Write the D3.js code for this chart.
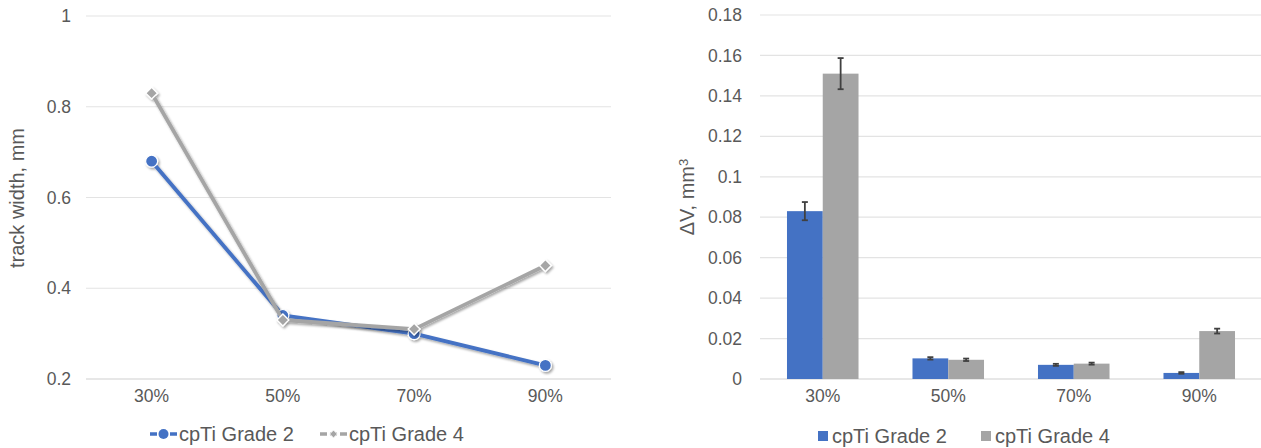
<!DOCTYPE html>
<html>
<head>
<meta charset="utf-8">
<script src="https://cdn.jsdelivr.net/npm/d3@7"></script>
<style>
  body { margin: 0; background: #fff; }
  text { font-family: 'Liberation Sans', Arial, sans-serif; fill: #595959; }
</style>
</head>
<body>
<div id="chart"></div>
<script>
'use strict';

const categories = ['30%', '50%', '70%', '90%']
const series_names = ['cpTi Grade 2', 'cpTi Grade 4']
const series_colors = ['#4472C4', '#A5A5A5']

// left: track width, mm
const width_grade2 = [0.68, 0.34, 0.30, 0.23]
const width_grade4 = [0.83, 0.33, 0.31, 0.45]
const width_ticks = [0.2, 0.4, 0.6, 0.8, 1]

// right: volume loss, mm3
const dv_grade2 = [0.083, 0.0102, 0.0070, 0.0030]
const dv_grade4 = [0.151, 0.0095, 0.0076, 0.0237]
const dv_err_grade2 = [0.0045, 0.0006, 0.0005, 0.0004]
const dv_err_grade4 = [0.0077, 0.0006, 0.0005, 0.0012]
const dv_ticks = [0, 0.02, 0.04, 0.06, 0.08, 0.1, 0.12, 0.14, 0.16, 0.18]

const svg_el = d3.select('#chart')
  .append('svg')
  .attr('width', 1261)
  .attr('height', 448)

const defs = svg_el.append('defs')
defs.append('filter')
  .attr('id', 'shadow')
  .attr('x', '-10%').attr('y', '-10%')
  .attr('width', '130%').attr('height', '130%')
  .append('feDropShadow')
  .attr('dx', 1.5)
  .attr('dy', 1.8)
  .attr('stdDeviation', 1.2)
  .attr('flood-color', '#000')
  .attr('flood-opacity', 0.35)

// ---------- left chart (lines) ----------
const left = { x0: 86, x1: 611, top: 16, bottom: 379 }

const x_left = d3.scaleBand()
  .domain(categories)
  .range([left.x0, left.x1])
const y_left = d3.scaleLinear()
  .domain([0.2, 1])
  .range([left.bottom, left.top])

const left_g = svg_el.append('g')

left_g.append('g')
  .selectAll('line')
  .data(width_ticks)
  .join('line')
  .attr('x1', left.x0)
  .attr('x2', left.x1)
  .attr('y1', d => y_left(d))
  .attr('y2', d => y_left(d))
  .attr('stroke', d => d === 0.2 ? '#D0D0D0' : '#E3E3E3')
  .attr('stroke-width', 1.2)

const y_axis_left = d3.axisLeft(y_left)
  .tickValues(width_ticks)
  .tickFormat(d => String(d))
  .tickSize(0)
  .tickPadding(0)
left_g.append('g')
  .attr('transform', `translate(71,0)`)
  .call(y_axis_left)
  .call(g => g.select('.domain').remove())
  .selectAll('text')
  .style('font-size', '17.5px')
  .style('font-family', "'Liberation Sans', Arial, sans-serif")
  .attr('fill', '#595959')

const x_axis_left = d3.axisBottom(x_left).tickSize(0).tickPadding(0)
left_g.append('g')
  .attr('transform', `translate(0,390)`)
  .call(x_axis_left)
  .call(g => g.select('.domain').remove())
  .selectAll('text')
  .style('font-size', '17.5px')
  .style('font-family', "'Liberation Sans', Arial, sans-serif")
  .attr('fill', '#595959')

left_g.append('text')
  .attr('transform', 'translate(24,198) rotate(-90)')
  .attr('text-anchor', 'middle')
  .style('font-size', '20px')
  .text('track width, mm')

const line_data = [width_grade2, width_grade4].map((vals, i) => ({
  name: series_names[i],
  color: series_colors[i],
  values: vals.map((v, j) => ({ cat: categories[j], value: v }))
}))

const line_gen = d3.line()
  .x(d => x_left(d.cat) + x_left.bandwidth() / 2)
  .y(d => y_left(d.value))

const diamond = d3.symbol().type(d3.symbolDiamond2).size(90)

line_data.forEach(function(s, i){
  const sg = left_g.append('g').attr('filter', 'url(#shadow)')
  sg.append('path')
    .attr('d', line_gen(s.values))
    .attr('fill', 'none')
    .attr('stroke', s.color)
    .attr('stroke-width', 3.8)
    .attr('stroke-linejoin', 'round')
  if(i === 0){
    sg.selectAll('circle')
      .data(s.values)
      .join('circle')
      .attr('cx', d => x_left(d.cat) + x_left.bandwidth() / 2)
      .attr('cy', d => y_left(d.value))
      .attr('r', 6)
      .attr('fill', s.color)
      .attr('stroke', '#fff')
      .attr('stroke-width', 1.2)
  }else {
    sg.selectAll('path.mk')
      .data(s.values)
      .join('path')
      .attr('class', 'mk')
      .attr('d', diamond)
      .attr('transform', d => `translate(${x_left(d.cat) + x_left.bandwidth() / 2},${y_left(d.value)})`)
      .attr('fill', s.color)
      .attr('stroke', '#fff')
      .attr('stroke-width', 1.4)
  }
})

// left legend
const leg_left = left_g.append('g').attr('transform', 'translate(0,434)')
const leg_left_x = [150, 320]
series_names.forEach(function(name, i){
  const lx = leg_left_x[i]
  leg_left.append('line')
    .attr('x1', lx).attr('x2', lx + 27)
    .attr('y1', 0).attr('y2', 0)
    .attr('stroke', series_colors[i])
    .attr('stroke-width', 3.5)
    .attr('stroke-dasharray', '7,3,7,3')
  if(i === 0){
    leg_left.append('circle')
      .attr('cx', lx + 13.5).attr('cy', 0).attr('r', 5)
      .attr('fill', series_colors[i])
  }else {
    leg_left.append('path')
      .attr('d', d3.symbol().type(d3.symbolDiamond2).size(40))
      .attr('transform', `translate(${lx + 13.5},0)`)
      .attr('fill', series_colors[i])
      .attr('stroke', '#fff')
      .attr('stroke-width', 1)
  }
  leg_left.append('text')
    .attr('x', lx + 29)
    .attr('dy', '0.35em')
    .style('font-size', '20px')
    .text(name)
})

// ---------- right chart (bars) ----------
const right = { x0: 760, x1: 1262, top: 15, bottom: 379 }

const x_right = d3.scaleBand()
  .domain(categories)
  .range([right.x0, right.x1])
const bar_w = x_right.bandwidth() * 0.285
const x_sub = d3.scaleBand()
  .domain(series_names)
  .range([x_right.bandwidth() / 2 - bar_w, x_right.bandwidth() / 2 + bar_w])
const y_right = d3.scaleLinear()
  .domain([0, 0.18])
  .range([right.bottom, right.top])

const right_g = svg_el.append('g')

right_g.append('g')
  .selectAll('line')
  .data(dv_ticks)
  .join('line')
  .attr('x1', right.x0)
  .attr('x2', right.x1)
  .attr('y1', d => y_right(d))
  .attr('y2', d => y_right(d))
  .attr('stroke', d => d === 0 ? '#D0D0D0' : '#E3E3E3')
  .attr('stroke-width', 1.2)

const y_axis_right = d3.axisLeft(y_right)
  .tickValues(dv_ticks)
  .tickFormat(d => String(+d.toFixed(2)))
  .tickSize(0)
  .tickPadding(0)
right_g.append('g')
  .attr('transform', `translate(742,0)`)
  .call(y_axis_right)
  .call(g => g.select('.domain').remove())
  .selectAll('text')
  .style('font-size', '17.5px')
  .style('font-family', "'Liberation Sans', Arial, sans-serif")
  .attr('fill', '#595959')

const x_axis_right = d3.axisBottom(x_right).tickSize(0).tickPadding(0)
right_g.append('g')
  .attr('transform', `translate(0,390)`)
  .call(x_axis_right)
  .call(g => g.select('.domain').remove())
  .selectAll('text')
  .style('font-size', '17.5px')
  .style('font-family', "'Liberation Sans', Arial, sans-serif")
  .attr('fill', '#595959')

const dv_title = right_g.append('text')
  .attr('transform', 'translate(694,197) rotate(-90)')
  .attr('text-anchor', 'middle')
  .style('font-size', '20px')
dv_title.append('tspan').text('ΔV, mm')
dv_title.append('tspan').attr('dy', '-0.5em').style('font-size', '13px').text('3')

const bar_data = []
categories.forEach(function(cat, j){
  bar_data.push({ cat: cat, name: series_names[0], value: dv_grade2[j], err: dv_err_grade2[j], color: series_colors[0] })
  bar_data.push({ cat: cat, name: series_names[1], value: dv_grade4[j], err: dv_err_grade4[j], color: series_colors[1] })
})

right_g.append('g')
  .selectAll('rect')
  .data(bar_data)
  .join('rect')
  .attr('x', d => x_right(d.cat) + x_sub(d.name))
  .attr('width', x_sub.bandwidth())
  .attr('y', d => y_right(d.value))
  .attr('height', d => y_right(0) - y_right(d.value))
  .attr('fill', d => d.color)

const err_g = right_g.append('g')
  .attr('stroke', '#404040')
  .attr('stroke-width', 1.8)
const err_cx = d => x_right(d.cat) + x_sub(d.name) + x_sub.bandwidth() / 2
err_g.selectAll('line.v')
  .data(bar_data)
  .join('line')
  .attr('class', 'v')
  .attr('x1', err_cx).attr('x2', err_cx)
  .attr('y1', d => y_right(d.value + d.err))
  .attr('y2', d => y_right(d.value - d.err))
err_g.selectAll('line.top')
  .data(bar_data)
  .join('line')
  .attr('class', 'top')
  .attr('x1', d => err_cx(d) - 3).attr('x2', d => err_cx(d) + 3)
  .attr('y1', d => y_right(d.value + d.err))
  .attr('y2', d => y_right(d.value + d.err))
err_g.selectAll('line.bot')
  .data(bar_data)
  .join('line')
  .attr('class', 'bot')
  .attr('x1', d => err_cx(d) - 3).attr('x2', d => err_cx(d) + 3)
  .attr('y1', d => y_right(d.value - d.err))
  .attr('y2', d => y_right(d.value - d.err))

// right legend
const leg_right = right_g.append('g').attr('transform', 'translate(0,436)')
const leg_right_x = [818, 981]
series_names.forEach(function(name, i){
  const lx = leg_right_x[i]
  leg_right.append('rect')
    .attr('x', lx).attr('y', -5)
    .attr('width', 10).attr('height', 10)
    .attr('fill', series_colors[i])
  leg_right.append('text')
    .attr('x', lx + 14)
    .attr('dy', '0.35em')
    .style('font-size', '20px')
    .text(name)
})
</script>
</body>
</html>
